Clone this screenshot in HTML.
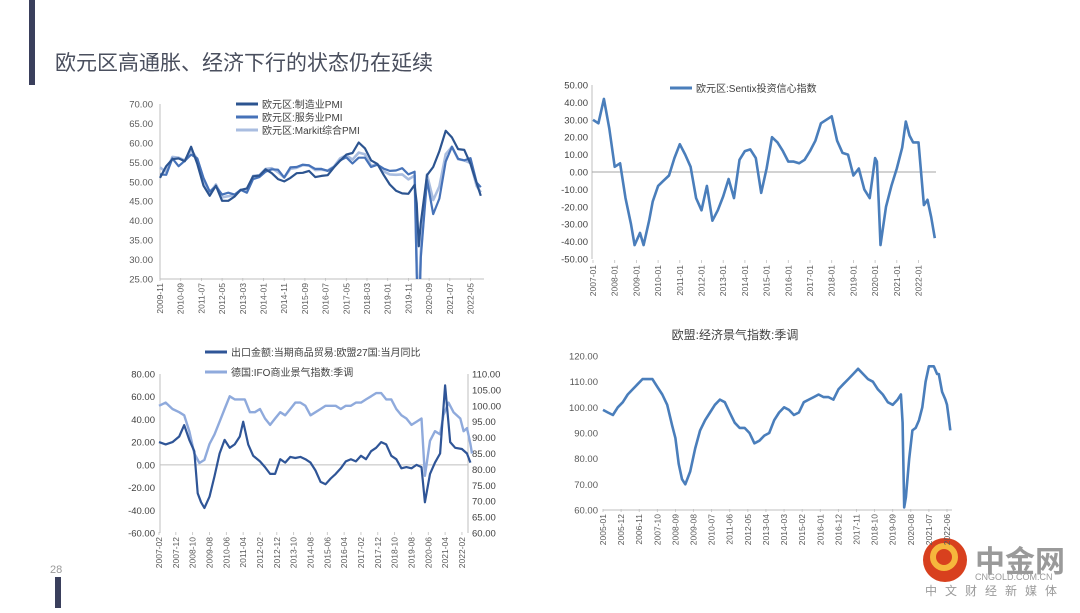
<!DOCTYPE html>
<html><head><meta charset="utf-8">
<style>
html,body{margin:0;padding:0;background:#fff;}
body{width:1080px;height:608px;position:relative;overflow:hidden;font-family:"Liberation Sans","Noto Sans CJK SC",sans-serif;}
svg text{font-family:"Liberation Sans","Noto Sans CJK SC",sans-serif;}
</style></head><body>
<svg id="s" width="1080" height="608" viewBox="0 0 1080 608" xmlns="http://www.w3.org/2000/svg">
<rect x="29" y="0" width="6" height="85" fill="#3a3f5c"/>
<text x="55" y="70" font-size="21" fill="#4a4f5e">欧元区高通胀、经济下行的状态仍在延续</text>
<text x="50" y="573" font-size="11" fill="#999">28</text>
<rect x="55" y="577" width="6" height="31" fill="#3a3f5c"/>
<g>
<circle cx="945" cy="560" r="22" fill="#d8401e"/>
<circle cx="944" cy="557" r="11" fill="none" stroke="#f6b73c" stroke-width="6"/>
<text x="975" y="572" font-size="30" font-weight="bold" fill="#9a9a9a">中金网</text>
<text x="975" y="580" font-size="9" fill="#9a9a9a">CNGOLD.COM.CN</text>
<text x="925" y="595" font-size="12" fill="#9a9a9a" letter-spacing="8">中文财经新媒体</text>
</g>
<g id="c1"></g>
<g id="c2"></g>
<g id="c3"></g>
<g id="c4"></g>
</svg>
<script>
// ---- Chart 1: PMI ----
const pmiDates=["2009-11","2010-02","2010-05","2010-08","2010-11","2011-02","2011-05","2011-08","2011-11","2012-02","2012-05","2012-08","2012-11","2013-02","2013-05","2013-08","2013-11","2014-02","2014-05","2014-08","2014-11","2015-02","2015-05","2015-08","2015-11","2016-02","2016-05","2016-08","2016-11","2017-02","2017-05","2017-08","2017-11","2018-02","2018-05","2018-08","2018-11","2019-02","2019-05","2019-08","2019-11","2020-02","2020-03","2020-04","2020-05","2020-08","2020-11","2021-02","2021-05","2021-08","2021-11","2022-02","2022-05","2022-08","2022-10"];
const pmiMfg=[51,54,55.8,56,55.3,59,54.6,49,46.4,49,45.1,45.1,46.2,47.9,48.3,51.4,51.6,53.2,52.2,50.7,50.1,51,52.2,52.3,52.8,51.2,51.5,51.7,53.7,55.4,57,57.4,60.1,58.6,55.5,54.6,51.8,49.3,47.7,47,46.9,49.2,44.5,33.4,39.4,51.7,53.8,57.9,63.1,61.4,58.4,58.2,54.6,49.6,46.4];
const pmiSvc=[51.9,51.8,56,54,55.4,57,56,51,47.5,48.8,46.7,47.2,46.7,47.9,47.2,50.7,51.2,52.6,53.2,53.1,51.1,53.7,53.8,54.4,54.2,53.3,53.3,52.8,53.8,55.5,56.3,54.7,56.2,56.2,53.8,54.4,53.4,52.8,52.9,53.5,51.9,52.6,26.4,12,30.5,50.5,41.7,45.7,55.2,59,55.9,55.5,56.1,49.8,48.6];
const pmiComp=[53.7,52.5,56.4,56.2,55.5,58.2,55.8,50.7,47,49.3,46,46.3,46.5,47.9,47.7,51.5,51.7,53.3,53.5,52.5,51.1,53.3,53.6,54.3,54.2,53,53.1,52.9,53.9,56,56.8,55.7,57.5,57.1,54.1,54.5,52.7,51.9,51.8,51.9,50.6,51.6,29.7,13.6,31.9,51.9,45.3,48.8,57.1,59,55.8,55.5,54.8,48.9,47.3];
const pmiYTicks=[25,30,35,40,45,50,55,60,65,70];
const pmiXTicks=["2009-11","2010-09","2011-07","2012-05","2013-03","2014-01","2014-11","2015-09","2016-07","2017-05","2018-03","2019-01","2019-11","2020-09","2021-07","2022-05"];
// ---- Chart 2: Sentix ----
const sxDates=["2007-01","2007-04","2007-07","2007-10","2008-01","2008-04","2008-07","2008-10","2008-12","2009-03","2009-05","2009-08","2009-10","2010-01","2010-04","2010-07","2010-10","2011-01","2011-04","2011-07","2011-10","2012-01","2012-04","2012-07","2012-10","2013-01","2013-04","2013-07","2013-10","2014-01","2014-04","2014-07","2014-10","2015-01","2015-04","2015-07","2015-10","2016-01","2016-04","2016-07","2016-10","2017-01","2017-04","2017-07","2017-10","2018-01","2018-04","2018-07","2018-10","2019-01","2019-04","2019-07","2019-10","2020-01","2020-02","2020-03","2020-04","2020-07","2020-10","2021-01","2021-04","2021-06","2021-08","2021-10","2022-01","2022-04","2022-06","2022-08","2022-10"];
const sxVals=[30,28,42,25,3,5,-15,-30,-42,-35,-42,-28,-17,-8,-5,-2,8,16,10,3,-15,-22,-8,-28,-22,-14,-4,-15,7,12,13,8,-12,2,20,17,12,6,6,5,7,12,18,28,30,32,18,11,10,-2,2,-10,-15,8,6,-17,-42,-20,-8,2,14,29,21,17,17,-19,-16,-26,-38];
const sxYTicks=[-50,-40,-30,-20,-10,0,10,20,30,40,50];
const sxXTicks=["2007-01","2008-01","2009-01","2010-01","2011-01","2012-01","2013-01","2014-01","2015-01","2016-01","2017-01","2018-01","2019-01","2020-01","2021-01","2022-01"];
// ---- Chart 3: exports & IFO ----
const exDates=["2007-02","2007-06","2007-10","2008-02","2008-05","2008-08","2008-11","2009-01","2009-03","2009-05","2009-08","2009-11","2010-02","2010-05","2010-08","2010-11","2011-02","2011-04","2011-07","2011-10","2012-02","2012-05","2012-08","2012-11","2013-02","2013-05","2013-08","2013-11","2014-02","2014-05","2014-08","2014-11","2015-02","2015-05","2015-08","2015-11","2016-02","2016-05","2016-08","2016-11","2017-02","2017-05","2017-08","2017-11","2018-02","2018-05","2018-08","2018-11","2019-02","2019-05","2019-08","2019-11","2020-02","2020-04","2020-07","2020-10","2021-01","2021-04","2021-07","2021-10","2022-02","2022-05","2022-07"];
const exVals=[20,18,20,25,35,22,12,-25,-33,-38,-28,-10,10,22,15,18,25,38,18,8,3,-2,-8,-8,5,2,7,6,7,5,2,-5,-15,-17,-12,-8,-3,3,5,3,8,5,12,15,20,18,8,5,-3,-2,-3,0,-2,-33,-8,2,10,70,20,15,14,10,2];
const ifoDates=["2007-02","2007-06","2007-10","2008-02","2008-05","2008-08","2008-11","2009-02","2009-05","2009-08","2009-11","2010-02","2010-05","2010-08","2010-11","2011-02","2011-05","2011-08","2011-11","2012-02","2012-05","2012-08","2012-11","2013-02","2013-05","2013-08","2013-11","2014-02","2014-05","2014-08","2014-11","2015-02","2015-05","2015-08","2015-11","2016-02","2016-05","2016-08","2016-11","2017-02","2017-05","2017-08","2017-11","2018-02","2018-05","2018-08","2018-11","2019-02","2019-05","2019-08","2019-11","2020-02","2020-04","2020-07","2020-10","2021-01","2021-03","2021-06","2021-09","2022-01","2022-03","2022-05","2022-07","2022-08"];
const ifoVals=[100,101,99,98,97,92,85,82,83,88,91,95,99,103,102,102,102,98,98,99,96,94,96,98,97,99,101,101,100,97,98,99,100,100,100,99,100,100,101,101,102,103,104,104,102,102,99,97,96,94,95,96,78,89,92,91,97,101,98,96,92,93,88,85];
const exYTicks=[-60,-40,-20,0,20,40,60,80];
const ifoYTicks=[60,65,70,75,80,85,90,95,100,105,110];
const exXTicks=["2007-02","2007-12","2008-10","2009-08","2010-06","2011-04","2012-02","2012-12","2013-10","2014-08","2015-06","2016-04","2017-02","2017-12","2018-10","2019-08","2020-06","2021-04","2022-02"];
// ---- Chart 4: ESI ----
const esiDates=["2005-01","2005-04","2005-07","2005-10","2006-01","2006-04","2006-07","2006-10","2007-01","2007-04","2007-07","2007-10","2008-01","2008-04","2008-07","2008-09","2008-11","2009-01","2009-03","2009-06","2009-09","2009-12","2010-03","2010-06","2010-09","2010-12","2011-03","2011-06","2011-09","2011-12","2012-03","2012-06","2012-09","2012-12","2013-03","2013-06","2013-09","2013-12","2014-03","2014-06","2014-09","2014-12","2015-03","2015-06","2015-09","2015-12","2016-03","2016-06","2016-09","2016-12","2017-03","2017-06","2017-09","2017-12","2018-03","2018-06","2018-09","2018-12","2019-03","2019-06","2019-09","2019-12","2020-02","2020-03","2020-04","2020-05","2020-07","2020-09","2020-11","2021-01","2021-03","2021-05","2021-07","2021-09","2021-10","2021-12","2022-01","2022-03","2022-05","2022-06","2022-07","2022-08"];
const esiVals=[99,98,97,100,102,105,107,109,111,111,111,108,105,101,93,88,78,72,70,75,84,91,95,98,101,103,102,98,94,92,92,90,86,87,89,90,95,98,100,99,97,98,102,103,104,105,104,104,103,107,109,111,113,115,113,111,110,107,105,102,101,103,105,94,61,65,80,91,92,95,100,110,116,116,116,113,113,106,103,101,96,91];
const esiYTicks=[60,70,80,90,100,110,120];
const esiXTicks=["2005-01","2005-12","2006-11","2007-10","2008-09","2009-08","2010-07","2011-06","2012-05","2013-04","2014-03","2015-02","2016-01","2016-12","2017-11","2018-10","2019-09","2020-08","2021-07","2022-06"];

const NS="http://www.w3.org/2000/svg";
function mk(parent,tag,attrs){const e=document.createElementNS(NS,tag);for(const k in attrs)e.setAttribute(k,attrs[k]);parent.appendChild(e);return e;}
function mi(d){const p=d.split("-");return (+p[0])*12+(+p[1])-1;}
function xs(start,x0,ppm){const s=mi(start);return d=>x0+(mi(d)-s)*ppm;}
function ys(vmin,vmax,yb,yt){return v=>yb-(v-vmin)/(vmax-vmin)*(yb-yt);}
function line(g,dates,vals,X,Y,color,w,name,clip){
  let d="";dates.forEach((dt,i)=>{d+=(i?"L":"M")+X(dt).toFixed(1)+","+Y(vals[i]).toFixed(1);});
  const p=mk(g,"path",{d:d,fill:"none",stroke:color,"stroke-width":w,"stroke-linejoin":"round"});
  if(clip)p.setAttribute("clip-path","url(#"+clip+")");
  
  
}
function yAxis(g,ticks,Y,x,anchor,dx,color,name){
  ticks.forEach(t=>{const tx=mk(g,"text",{x:x+dx,y:Y(t)+3.5,"font-size":"9.5",fill:color,"text-anchor":anchor});tx.textContent=t.toFixed(2);
    
    });
}
function xAxis(g,ticks,X,y,name){
  ticks.forEach(t=>{const x=X(t);const tx=mk(g,"text",{x:0,y:0,"font-size":"8.5",fill:"#595959","text-anchor":"end",transform:"translate("+(x+3)+","+(y+2)+") rotate(-90)"});tx.textContent=t;
    
    
    mk(g,"line",{x1:x,x2:x,y1:y-3,y2:y,stroke:"#bfbfbf","stroke-width":0.8});});
}
function legend(g,x,y,color,w,label,name,fs){
  mk(g,"line",{x1:x,x2:x+22,y1:y,y2:y,stroke:color,"stroke-width":w});
  const t=mk(g,"text",{x:x+26,y:y+4,"font-size":fs||10,fill:"#404040"});t.textContent=label;
  
  
}
const svg=document.getElementById("s");
const defs=mk(svg,"defs",{});
const cp=mk(defs,"clipPath",{id:"clip1"});mk(cp,"rect",{x:158,y:100,width:330,height:179});

// Chart 1
(function(){const g=document.getElementById("c1");
 const X=xs("2009-11",160,2.07),Y=ys(25,70,279,104);
 mk(g,"line",{x1:160,x2:160,y1:104,y2:279,stroke:"#bfbfbf"});
 mk(g,"line",{x1:160,x2:484,y1:279,y2:279,stroke:"#bfbfbf"});
 yAxis(g,pmiYTicks,Y,153,"end",0,"#595959","pmi-y-tick");
 xAxis(g,pmiXTicks,X,281,"pmi-x-tick");
 line(g,pmiDates,pmiComp,X,Y,"#a9bde0",2.6,"composite-pmi-line","clip1");
 line(g,pmiDates,pmiSvc,X,Y,"#4672b8",2.2,"services-pmi-line","clip1");
 line(g,pmiDates,pmiMfg,X,Y,"#2c5490",2.2,"manufacturing-pmi-line","clip1");
 legend(g,236,104,"#2c5490",3,"欧元区:制造业PMI","legend-manufacturing");
 legend(g,236,117,"#4672b8",3,"欧元区:服务业PMI","legend-services");
 legend(g,236,130,"#a9bde0",3,"欧元区:Markit综合PMI","legend-composite");
})();
// Chart 2
(function(){const g=document.getElementById("c2");
 const X=xs("2007-01",593,21.7/12),Y=ys(-50,50,259,85);
 mk(g,"line",{x1:592,x2:592,y1:85,y2:259,stroke:"#bfbfbf"});
 mk(g,"line",{x1:592,x2:936,y1:Y(0),y2:Y(0),stroke:"#a6a6a6"});
 yAxis(g,sxYTicks,Y,588,"end",0,"#404040","sentix-y-tick");
 xAxis(g,sxXTicks,X,263,"sentix-x-tick");
 line(g,sxDates,sxVals,X,Y,"#4a7ebb",2.6,"sentix-line");
 legend(g,670,88,"#4a7ebb",3,"欧元区:Sentix投资信心指数","legend-sentix");
})();
// Chart 3
(function(){const g=document.getElementById("c3");
 const X=xs("2007-02",159,1.683),YL=ys(-60,80,533,374),YR=ys(60,110,533,374);
 mk(g,"line",{x1:160,x2:160,y1:374,y2:533,stroke:"#bfbfbf"});
 mk(g,"line",{x1:468,x2:468,y1:374,y2:533,stroke:"#bfbfbf"});
 mk(g,"line",{x1:160,x2:468,y1:YL(0),y2:YL(0),stroke:"#bfbfbf"});
 yAxis(g,exYTicks,YL,155,"end",0,"#404040","export-y-tick");
 yAxis(g,ifoYTicks,YR,472,"start",0,"#404040","ifo-y-tick");
 xAxis(g,exXTicks,X,535,"export-x-tick");
 line(g,ifoDates,ifoVals,X,YR,"#8faadc",2.4,"ifo-line");
 line(g,exDates,exVals,X,YL,"#2f5597",2.2,"export-line");
 legend(g,205,352,"#2f5597",3,"出口金额:当期商品贸易:欧盟27国:当月同比","legend-export");
 legend(g,205,372,"#8faadc",3,"德国:IFO商业景气指数:季调","legend-ifo");
})();
// Chart 4
(function(){const g=document.getElementById("c4");
 const X=xs("2005-01",603,1.646),Y=ys(60,120,510,356);
 const t=mk(g,"text",{x:735,y:339,"font-size":"12",fill:"#404040","text-anchor":"middle"});t.textContent="欧盟:经济景气指数:季调";
 
 
 mk(g,"line",{x1:603,x2:952,y1:510,y2:510,stroke:"#bfbfbf"});
 yAxis(g,esiYTicks,Y,598,"end",0,"#595959","esi-y-tick");
 xAxis(g,esiXTicks,X,512,"esi-x-tick");
 line(g,esiDates,esiVals,X,Y,"#4a7ebb",2.6,"esi-line");
})();
</script>
</body></html>
